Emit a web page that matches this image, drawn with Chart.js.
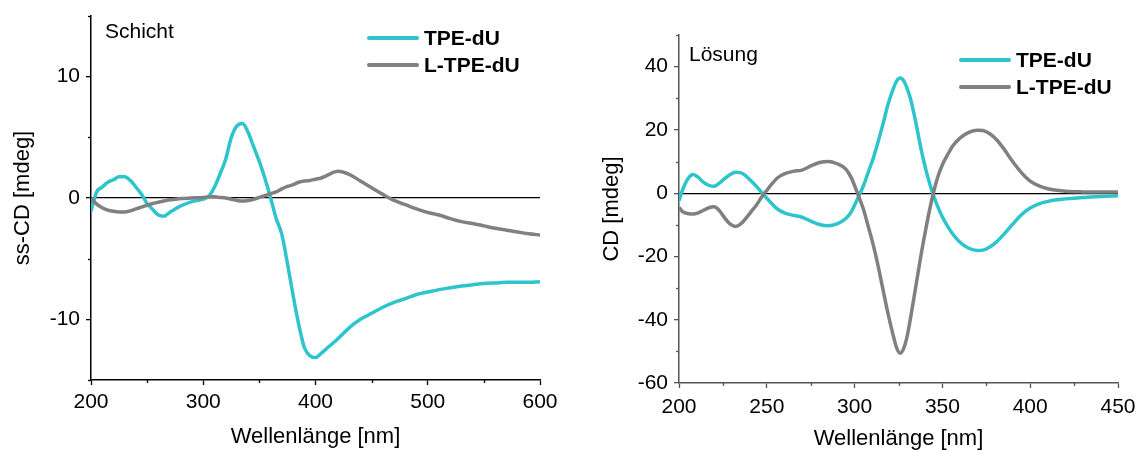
<!DOCTYPE html>
<html>
<head>
<meta charset="utf-8">
<script src="https://cdn.jsdelivr.net/npm/chart.js@4.4.1/dist/chart.umd.min.js"></script>
<style>
  html, body { margin: 0; padding: 0; background: #fff; }
  #wrap { position: relative; width: 1136px; height: 450px; overflow: hidden;
          font-family: "Liberation Sans", Arial, sans-serif; color: #000; }
  canvas { position: absolute; top: 0; }
  .note { position: absolute; font-size: 21px; line-height: 1; white-space: nowrap; }
  .legend { position: absolute; }
  .legend .item { display: flex; align-items: center; height: 27px; }
  .legend .swatch { width: 52px; height: 4px; margin-right: 5px; border-radius: 2px; }
  .legend .txt { font-weight: bold; font-size: 21px; line-height: 1; white-space: nowrap; }
</style>
</head>
<body>
<div id="wrap">
  <canvas id="cSchicht" width="560" height="450" style="left:0px"></canvas>
  <canvas id="cLoesung" width="560" height="450" style="left:576px"></canvas>
  <div class="note" style="left:105px; top:20px;">Schicht</div>
  <div class="note" style="left:689px; top:43px;">Lösung</div>
  <div class="legend" id="legSchicht" style="left:367px; top:24px;"></div>
  <div class="legend" id="legLoesung" style="left:959px; top:46px;"></div>
</div>
<script>
// ---- Film (Schicht) spectra ----
const schichtNm = [200,205,210,215,220,225,230,235,240,245,250,255,260,265,270,275,280,290,300,305,310,315,320,325,330,335,340,345,350,355,360,365,370,375,380,385,390,395,400,405,410,420,430,440,450,460,470,480,490,500,510,520,530,540,550,560,570,580,590,600];
const schichtTpe = [-1.1,0.5,0.9,1.3,1.5,1.75,1.75,1.45,0.9,0.3,-0.45,-0.95,-1.4,-1.5,-1.2,-0.9,-0.65,-0.3,-0.1,0.15,0.9,2.0,3.2,5.0,5.95,6.15,5.4,4.2,3.0,1.6,0.0,-1.7,-3.0,-5.4,-8.0,-10.4,-12.3,-13.0,-13.15,-12.8,-12.4,-11.6,-10.7,-10.0,-9.5,-9.0,-8.6,-8.3,-7.95,-7.75,-7.55,-7.4,-7.25,-7.15,-7.05,-7.0,-6.95,-6.95,-6.95,-6.9];
const schichtLTpe = [0.0,-0.5,-0.8,-1.0,-1.1,-1.15,-1.15,-1.05,-0.9,-0.75,-0.6,-0.45,-0.35,-0.25,-0.15,-0.1,-0.05,0.0,0.05,0.1,0.1,0.05,0.0,-0.1,-0.2,-0.25,-0.2,-0.1,0.05,0.2,0.35,0.5,0.75,0.95,1.1,1.3,1.4,1.45,1.55,1.65,1.85,2.2,1.95,1.4,0.85,0.3,-0.2,-0.55,-0.9,-1.2,-1.4,-1.7,-1.95,-2.1,-2.3,-2.5,-2.65,-2.8,-2.95,-3.05];

// ---- Solution (Lösung) spectra ----
const loesungNm = [200,202,205,208,211,214,217,220,223,226,229,232,235,238,241,244,247,250,253,256,260,265,270,275,280,285,290,295,298,301,303,305,308,310,313,316,319,322,324,326,328,330,332,335,338,341,344,347,350,353,356,360,365,370,373,377,381,385,390,395,400,405,410,415,420,430,440,450];
const loesungTpe = [-2.4,1.0,4.5,5.9,5.0,3.4,2.5,2.2,3.2,4.6,5.8,6.6,6.5,5.5,3.9,2.2,0.3,-1.6,-3.4,-5.0,-6.2,-7.0,-7.6,-8.8,-9.9,-10.3,-9.7,-8.0,-6.0,-2.6,-0.2,2.3,7.0,10.0,15.5,21.5,28.0,33.0,35.5,36.4,35.5,33.0,29.5,22.0,13.5,6.5,0.8,-3.8,-7.5,-10.5,-13.0,-15.5,-17.4,-18.1,-18.0,-17.0,-15.3,-13.0,-9.8,-6.8,-4.7,-3.4,-2.6,-2.1,-1.8,-1.35,-1.05,-0.85];
const loesungLTpe = [-4.5,-5.8,-6.4,-6.6,-6.2,-5.4,-4.6,-4.3,-5.5,-7.8,-9.7,-10.5,-9.8,-8.0,-5.9,-3.8,-1.3,0.9,3.0,4.8,6.1,6.9,7.3,8.6,9.7,10.0,9.3,7.6,5.0,1.0,-2.0,-5.0,-11.0,-15.0,-22.0,-30.0,-38.0,-45.0,-49.0,-50.6,-49.0,-45.0,-39.0,-29.0,-19.0,-10.0,-2.0,4.5,9.0,12.2,15.0,17.4,19.2,19.9,19.8,18.8,16.8,14.0,10.0,6.5,3.8,2.3,1.4,0.9,0.6,0.4,0.35,0.35];

const seriesLabels = ['TPE-dU', 'L-TPE-dU'];
const seriesColors = ['#2EC4CC', '#808080'];

Chart.defaults.font.family = "'Liberation Sans', Arial, sans-serif";
Chart.defaults.color = '#000';

// short unlabeled ticks between the labelled ones
const minorTicks = {
  id: 'minorTicks',
  afterDraw(chart, args, opts) {
    const ctx = chart.ctx;
    ctx.save();
    ctx.strokeStyle = opts.color;
    ctx.lineWidth = opts.width;
    ['x', 'y'].forEach(id => {
      const scale = chart.scales[id];
      const major = opts.major[id];
      scale.ticks.forEach(t => {
        if (Math.abs(t.value % major) < 1e-9) return;
        const p = Math.round(scale.getPixelForValue(t.value)) + 0.5;
        ctx.beginPath();
        if (id === 'x') { ctx.moveTo(p, scale.top); ctx.lineTo(p, scale.top + opts.len); }
        else { ctx.moveTo(scale.right, p); ctx.lineTo(scale.right - opts.len, p); }
        ctx.stroke();
      });
    });
    ctx.restore();
  }
};

function pairs(xs, ys) { return xs.map((x, i) => ({ x: x, y: ys[i] })); }

function buildChart(canvasId, cfg) {
  const axisColor = cfg.axisColor;
  const isMajor = (v, m) => Math.abs(v % m) < 1e-9;
  return new Chart(document.getElementById(canvasId), {
    type: 'line',
    data: {
      datasets: cfg.series.map((ys, i) => ({
        label: seriesLabels[i],
        data: pairs(cfg.nm, ys),
        borderColor: seriesColors[i],
        backgroundColor: seriesColors[i],
        borderWidth: 3.5,
        pointRadius: 0,
        tension: 0.4,
        cubicInterpolationMode: 'monotone',
        fill: false,
        order: i === 0 ? 1 : 0
      }))
    },
    options: {
      responsive: false,
      animation: false,
      devicePixelRatio: 1,
      layout: { padding: cfg.padding },
      plugins: {
        legend: { display: false },
        tooltip: { enabled: false },
        minorTicks: { color: axisColor, width: 1.3, len: 3, major: { x: cfg.xMajor, y: cfg.yMajor } }
      },
      scales: {
        x: {
          type: 'linear',
          min: cfg.xMin, max: cfg.xMax,
          afterFit: s => { s.height = cfg.xAxisHeight; s.paddingLeft = 0; s.paddingRight = 0; },
          border: { display: true, color: axisColor, width: 1.5 },
          grid: {
            drawOnChartArea: false, drawTicks: true, tickLength: 5, tickWidth: 1.3,
            tickColor: c => (c.tick && isMajor(c.tick.value, cfg.xMajor)) ? axisColor : 'rgba(0,0,0,0)'
          },
          ticks: {
            stepSize: cfg.xMinor, autoSkip: false, maxRotation: 0, padding: cfg.xTickPad,
            font: { size: 21 }, color: '#000',
            callback: v => isMajor(v, cfg.xMajor) ? String(v) : ''
          },
          title: { display: true, text: 'Wellenlänge [nm]', color: '#000',
                   font: { size: 22, lineHeight: 1 }, padding: { top: 0, bottom: cfg.xTitlePad } }
        },
        y: {
          type: 'linear',
          min: cfg.yMin, max: cfg.yMax,
          afterFit: s => { s.width = cfg.yAxisWidth; s.paddingTop = 0; s.paddingBottom = 0; },
          border: { display: true, color: axisColor, width: 1.5 },
          grid: {
            drawOnChartArea: true, drawTicks: true, tickLength: 5, tickWidth: 1.3, lineWidth: 1.3,
            color: c => (c.tick && c.tick.value === 0) ? '#000' : 'rgba(0,0,0,0)',
            tickColor: c => (c.tick && isMajor(c.tick.value, cfg.yMajor)) ? axisColor : 'rgba(0,0,0,0)'
          },
          ticks: {
            stepSize: cfg.yMinor, autoSkip: false, padding: 6,
            font: { size: 21 }, color: '#000',
            callback: v => isMajor(v, cfg.yMajor) ? String(v) : ''
          },
          title: { display: true, text: cfg.yTitle, color: '#000',
                   font: { size: 22, lineHeight: 1 }, padding: { top: cfg.yTitlePad, bottom: 0 } }
        }
      }
    },
    plugins: [minorTicks]
  });
}

function htmlLegend(chart, boxId) {
  const box = document.getElementById(boxId);
  chart.data.datasets.forEach(ds => {
    const item = document.createElement('div');
    item.className = 'item';
    const sw = document.createElement('span');
    sw.className = 'swatch';
    sw.style.background = ds.borderColor;
    const tx = document.createElement('span');
    tx.className = 'txt';
    tx.textContent = ds.label;
    item.appendChild(sw);
    item.appendChild(tx);
    box.appendChild(item);
  });
}

const chartSchicht = buildChart('cSchicht', {
  nm: schichtNm, series: [schichtTpe, schichtLTpe],
  xMin: 200, xMax: 600, xMinor: 50, xMajor: 100,
  yMin: -15, yMax: 15, yMinor: 5, yMajor: 10,
  yTitle: 'ss-CD [mdeg]', axisColor: '#000',
  padding: { left: 0, right: 20, top: 16, bottom: 0 },
  yAxisWidth: 91, xAxisHeight: 70, yTitlePad: 12, xTitlePad: 2, xTickPad: 5
});

const chartLoesung = buildChart('cLoesung', {
  nm: loesungNm, series: [loesungTpe, loesungLTpe],
  xMin: 200, xMax: 450, xMinor: 25, xMajor: 50,
  yMin: -60, yMax: 50, yMinor: 10, yMajor: 20,
  yTitle: 'CD [mdeg]', axisColor: '#555',
  padding: { left: 0, right: 18, top: 35, bottom: 0 },
  yAxisWidth: 103, xAxisHeight: 67, yTitlePad: 25, xTitlePad: 0, xTickPad: 7
});

htmlLegend(chartSchicht, 'legSchicht');
htmlLegend(chartLoesung, 'legLoesung');
</script>
</body>
</html>
